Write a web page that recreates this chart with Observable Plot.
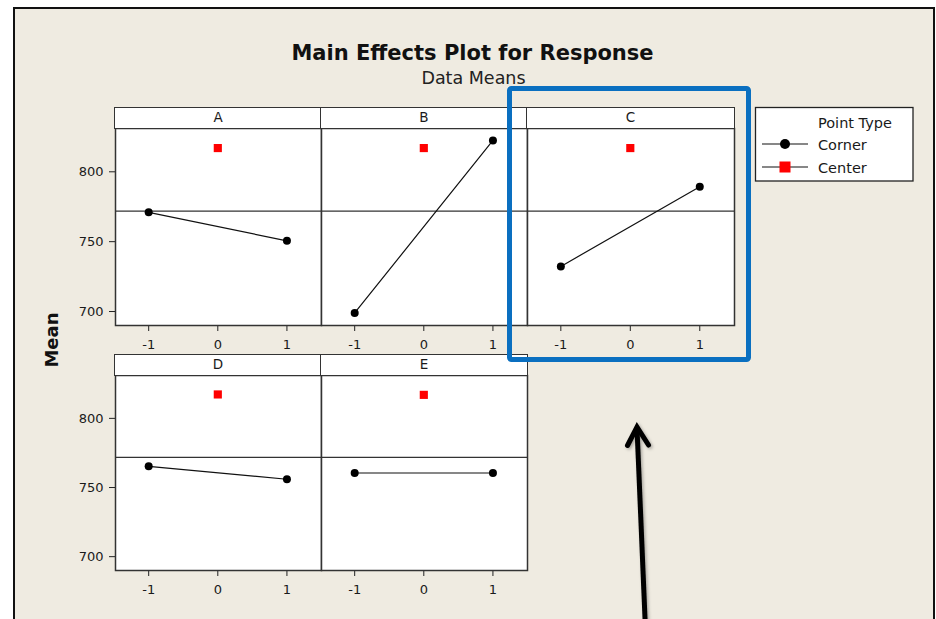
<!DOCTYPE html>
<html>
<head>
<meta charset="utf-8">
<script src="https://cdn.jsdelivr.net/npm/d3@7"></script>
<script src="https://cdn.jsdelivr.net/npm/@observablehq/plot@0.6"></script>
<style>
  html, body { margin: 0; padding: 0; background: #ffffff; }
  #root { position: relative; width: 936px; height: 619px; overflow: hidden; font-family: "DejaVu Sans", sans-serif; }
  #frame { position: absolute; left: 13px; top: 7px; width: 922px; height: 640px; box-sizing: border-box;
           border-left: 2.5px solid #111; border-top: 2px solid #111; border-right: 2px solid #111; background: #efebe1; }
  .hdr { position: absolute; box-sizing: border-box; background: #fff; border: 1.5px solid #333;
         font-family: "DejaVu Sans", sans-serif; font-size: 13.5px; color: #1a1a1a; text-align: center; }
  svg.overlay { position: absolute; left: 0; top: 0; pointer-events: none; }
</style>
</head>
<body>
<div id="root"><div id="frame"></div></div>
<script>
// ---- data ----
const factors = ["A", "B", "C", "D", "E"];
const lowMeans = [771, 699, 732.3, 765.3, 760.5];     // corner points at level -1
const highMeans = [750.6, 822.5, 789.3, 756, 760.5];  // corner points at level +1
const centerMeans = [817, 817, 817, 817.3, 817];      // center points at level 0
const cornerLevels = [-1, 1];
const centerLevel = 0;
const overallMean = 771.8;
const xTicks = [-1, 0, 1];
const yTicks = [700, 750, 800];
const legendTitle = "Point Type";
const legendLabels = ["Corner", "Center"];

// ---- layout ----
const root = document.getElementById("root");
const panels = [
  {left: 115, top: 128, w: 206, h: 197, showY: true},
  {left: 321, top: 128, w: 206, h: 197, showY: false},
  {left: 527, top: 128, w: 207, h: 197, showY: false},
  {left: 115, top: 375, w: 206, h: 195, showY: true},
  {left: 321, top: 375, w: 206, h: 195, showY: false}
];

factors.forEach((f, i) => {
  const pl = panels[i];
  const ml = pl.showY ? 45 : 0;
  const mb = 30;
  const corner = cornerLevels.map((lv, j) => ({x: lv, y: j === 0 ? lowMeans[i] : highMeans[i]}));
  const center = [{x: centerLevel, y: centerMeans[i]}];
  const p = Plot.plot({
    width: ml + pl.w, height: pl.h + mb,
    marginTop: 0, marginRight: 0, marginBottom: mb, marginLeft: ml,
    x: {domain: [-1.48, 1.5], axis: null},
    y: {domain: [690, 831], axis: null},
    style: {fontFamily: "DejaVu Sans", fontSize: "13px", color: "#1a1a1a", background: "transparent", overflow: "visible"},
    marks: [
      Plot.frame({fill: "#ffffff"}),
      Plot.ruleY([overallMean], {stroke: "#333", strokeWidth: 1.3}),
      Plot.line(corner, {x: "x", y: "y", stroke: "#111", strokeWidth: 1.2}),
      Plot.dot(corner, {x: "x", y: "y", r: 4, fill: "#000"}),
      Plot.dot(center, {x: "x", y: "y", symbol: "square", r: 4.6, fill: "#ff0000"}),
      Plot.axisX({ticks: xTicks, tickSize: 6, tickPadding: 8, tickFormat: d => String(d), label: null, stroke: "#222"}),
      pl.showY ? Plot.axisY({ticks: yTicks, tickSize: 6, tickPadding: 6, tickFormat: d => String(d), label: null, stroke: "#222"}) : null,
      Plot.frame({stroke: "#333", strokeWidth: 1.5})
    ]
  });
  p.style.position = "absolute";
  p.style.left = (pl.left - ml) + "px";
  p.style.top = pl.top + "px";
  root.appendChild(p);

  const hdr = document.createElement("div");
  hdr.className = "hdr";
  hdr.style.left = (pl.left - 0.75) + "px";
  hdr.style.top = (pl.top - 21) + "px";
  hdr.style.width = (pl.w + 1.5) + "px";
  hdr.style.height = "22px";
  hdr.style.lineHeight = "18px";
  hdr.textContent = f;
  root.appendChild(hdr);
});

// ---- titles, legend, annotations ----
const ns = "http://www.w3.org/2000/svg";
const ov = document.createElementNS(ns, "svg");
ov.setAttribute("class", "overlay");
ov.setAttribute("width", 936);
ov.setAttribute("height", 619);
ov.innerHTML = `
  <defs>
    <filter id="sh" x="-50%" y="-10%" width="200%" height="130%">
      <feDropShadow dx="1.5" dy="1.5" stdDeviation="1.5" flood-color="#000" flood-opacity="0.3"/>
    </filter>
  </defs>
  <text x="472.5" y="60" text-anchor="middle" font-family="DejaVu Sans" font-weight="bold" font-size="21" fill="#111">Main Effects Plot for Response</text>
  <text x="473.5" y="83.5" text-anchor="middle" font-family="DejaVu Sans" font-size="17.5" fill="#222">Data Means</text>
  <text transform="translate(58,340) rotate(-90)" text-anchor="middle" font-family="DejaVu Sans" font-weight="bold" font-size="18" fill="#111">Mean</text>
  <rect x="755.5" y="107.5" width="157.5" height="73.5" fill="#fff" stroke="#222" stroke-width="1.3"/>
  <text x="818" y="127.5" font-family="DejaVu Sans" font-size="14.5" fill="#1a1a1a">${legendTitle}</text>
  <line x1="762" y1="144" x2="808" y2="144" stroke="#111" stroke-width="1.2"/>
  <circle cx="785" cy="144" r="5" fill="#000"/>
  <text x="818" y="149.5" font-family="DejaVu Sans" font-size="14.5" fill="#1a1a1a">${legendLabels[0]}</text>
  <line x1="762" y1="167" x2="808" y2="167" stroke="#111" stroke-width="1.2"/>
  <rect x="779.5" y="161.5" width="11" height="11" fill="#ff0000"/>
  <text x="818" y="172.5" font-family="DejaVu Sans" font-size="14.5" fill="#1a1a1a">${legendLabels[1]}</text>
  <rect x="509.5" y="88.5" width="239" height="271" rx="2" fill="none" stroke="#0a6fc0" stroke-width="5"/>
  <g filter="url(#sh)" stroke="#000" stroke-width="5" fill="none">
    <path d="M645.5,630 L637,428"/>
    <path d="M627.5,445.5 L637,427 L648.5,445" stroke-linejoin="miter" stroke-linecap="round"/>
  </g>
`;
root.appendChild(ov);
</script>
</body>
</html>
